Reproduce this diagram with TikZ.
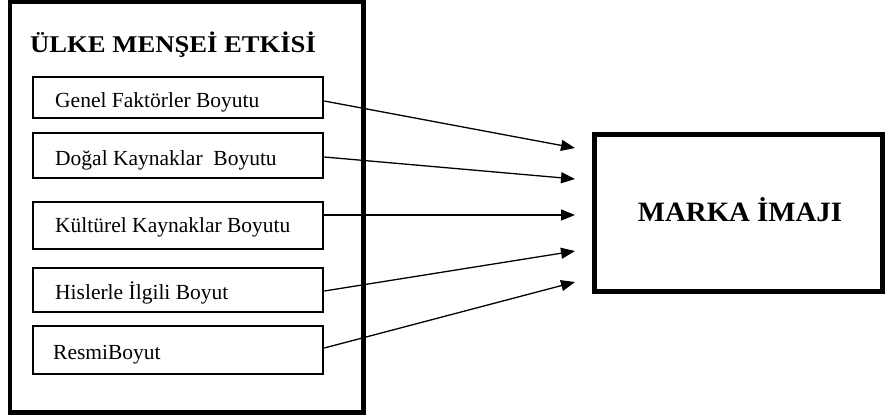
\documentclass[tikz,border=0pt]{standalone}
\usepackage{fontspec}
\setmainfont{Liberation Serif}
\usetikzlibrary{arrows.meta}
\tikzset{
  outerbox/.style={draw, line width=4.5pt},
  dimbox/.style={draw, line width=2.5pt, minimum width=290pt, inner sep=0pt},
  dimtext/.style={anchor=base west, inner sep=0pt, font=\fontsize{21.5}{25}\selectfont},
  imgbox/.style={draw, line width=5pt, inner sep=0pt},
  arr/.style={line width=1.3pt, -{Triangle[length=14pt,width=11pt]}},
}
\begin{document}
\begin{tikzpicture}[x=1pt,y=-1pt]
\useasboundingbox (0,0) rectangle (885,418);
% outer frame
\node[outerbox, minimum width=353.5pt, minimum height=410.5pt, inner sep=0pt] (outer) at (186.75,207.25) {};
\node[anchor=base west, inner sep=0pt, font=\fontsize{24}{28}\selectfont\bfseries] (title) at (30,52) {\scalebox{1.11}[1]{ÜLKE MENŞEİ ETKİSİ}};
% dimension boxes
\node[dimbox, minimum height=41pt] (b1) at (178,97.5) {};
\node[dimbox, minimum height=45pt] (b2) at (178,155.5) {};
\node[dimbox, minimum height=47pt] (b3) at (178,225.5) {};
\node[dimbox, minimum height=44pt] (b4) at (178,290) {};
\node[dimbox, minimum height=48pt] (b5) at (178,350) {};
\node[dimtext] (t1) at (55,107) {Genel Faktörler Boyutu};
\node[dimtext] (t2) at (55,165) {Doğal Kaynaklar\ \ Boyutu};
\node[dimtext] (t3) at (55,232) {Kültürel Kaynaklar Boyutu};
\node[dimtext] (t4) at (55,299) {Hislerle İlgili Boyut};
\node[dimtext] (t5) at (53,359) {ResmiBoyut};
% brand image box
\node[imgbox, minimum width=288pt, minimum height=157pt] (img) at (738.5,213) {};
\node[anchor=base, inner sep=0pt, font=\fontsize{28}{33}\selectfont\bfseries] (imgtext) at (740,221) {\scalebox{1.03}[1]{MARKA İMAJI}};
% arrow ends
\coordinate (e1) at (575,148);
\coordinate (e2) at (575,179);
\coordinate (e3) at (575,215);
\coordinate (e4) at (575,251);
\coordinate (e5) at (575,282);
\draw[arr] ([yshift=-3.5pt]b1.east) -- (e1);
\draw[arr] ([yshift=-1.5pt]b2.east) -- (e2);
\draw[arr] ([yshift=10.5pt]b3.east) -- (e3);
\draw[arr] ([yshift=-1pt]b4.east) -- (e4);
\draw[arr] ([yshift=2pt]b5.east) -- (e5);
\end{tikzpicture}
\end{document}
